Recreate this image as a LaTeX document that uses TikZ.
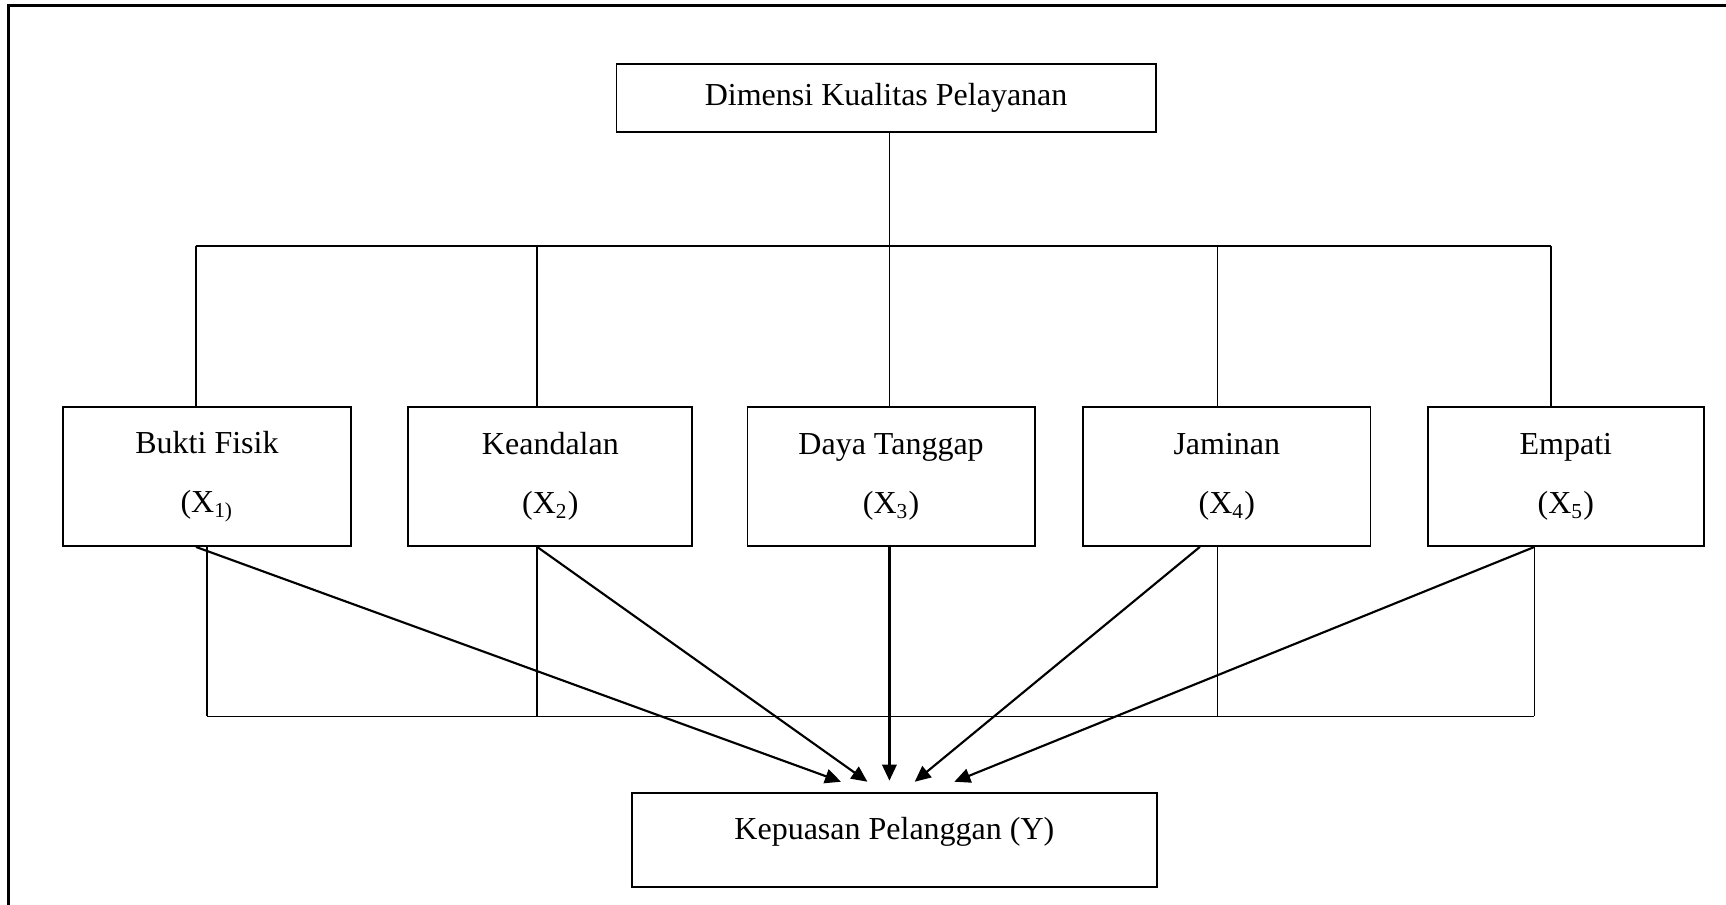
\documentclass[tikz,border=0pt,12pt]{standalone}
\usepackage{fontspec}
\setmainfont{Liberation Serif}
\usetikzlibrary{positioning,calc,arrows.meta}
\tikzstyle{sheet} = [x = .1451mm, y = -.1451mm]
\newcommand{\px}{.1451mm}
\tikzstyle{frameLine} = [line width = 1pt]
\tikzstyle{boxStyle} = [draw, line width = .7pt, align = center, inner sep = 0pt]
\tikzstyle{linkLine} = [line width = .65pt]
\tikzstyle{arrowLine} = [line width = .8pt, -{Triangle[length=2.1mm, width=1.9mm]}]
\newcommand{\factorBox}[5]{\node [boxStyle, minimum width = {#3*\px}, minimum height = {126*\px}] (#1) at (#2, 433) {#4\\[7.7pt]#5};}
\newcommand{\dropLine}[3]{\draw [linkLine] ($(#1.north)+(#2,0)$) -- ($(#1.north)+(#2,-146)$) coordinate (#3);}
\newcommand{\footLine}[3]{\draw [linkLine] ($(#1.south)+(#2,0)$) -- ($(#1.south)+(#2,154)$) coordinate (#3);}

\begin{document}
\begin{tikzpicture}[sheet]
  \useasboundingbox (0,0) rectangle (1568,822);
  \draw [frameLine] (8,822) -- (8,5) -- (1568,5);

  % boxes
  \node [boxStyle, minimum width = {490*\px}, minimum height = {62*\px}] (dimensi) at (805,89) {Dimensi Kualitas Pelayanan};
  \factorBox{bukti}{188}{262}{Bukti Fisik}{(X\textsubscript{1)}}
  \factorBox{keandalan}{500}{258}{Keandalan}{(X\textsubscript{2})}
  \factorBox{daya}{809.5}{261}{Daya Tanggap}{(X\textsubscript{3})}
  \factorBox{jaminan}{1114.5}{261}{Jaminan}{(X\textsubscript{4})}
  \factorBox{empati}{1422.5}{251}{Empati}{(X\textsubscript{5})}
  \node [boxStyle, minimum width = {477*\px}, minimum height = {86*\px}, text height = 8pt, text depth = 8pt] (kepuasan) at (812.5,763) {Kepuasan Pelanggan (Y)};

  % upper tree
  \draw [linkLine] ($(dimensi.south -| daya.north)+(-1.5,0)$) -- ($(daya.north)+(-1.5,0)$);
  \dropLine{bukti}{-10}{barLeft}
  \dropLine{keandalan}{-12}{barB}
  \dropLine{jaminan}{-8.5}{barD}
  \dropLine{empati}{-13.5}{barRight}
  \draw [linkLine] (barLeft) -- (barRight);

  % lower bracket
  \footLine{bukti}{0}{footLeft}
  \footLine{keandalan}{-12}{footB}
  \footLine{jaminan}{-8.5}{footD}
  \footLine{empati}{-28.5}{footRight}
  \draw [linkLine] (footLeft) -- (footRight);

  % arrows
  \draw [arrowLine] ($(bukti.south)+(-10,0)$) -- ($(kepuasan.north)+(-48.5,-9)$);
  \draw [arrowLine] ($(keandalan.south)+(-12,0)$) -- ($(kepuasan.north)+(-24.5,-9)$);
  \draw [arrowLine] ($(daya.south)+(-1.5,0)$) -- ($(kepuasan.north)+(-4.5,-10)$);
  \draw [arrowLine] ($(jaminan.south)+(-24.5,0)$) -- ($(kepuasan.north)+(18.5,-9)$);
  \draw [arrowLine] ($(empati.south)+(-28.5,0)$) -- ($(kepuasan.north)+(54.5,-9)$);
\end{tikzpicture}
\end{document}
